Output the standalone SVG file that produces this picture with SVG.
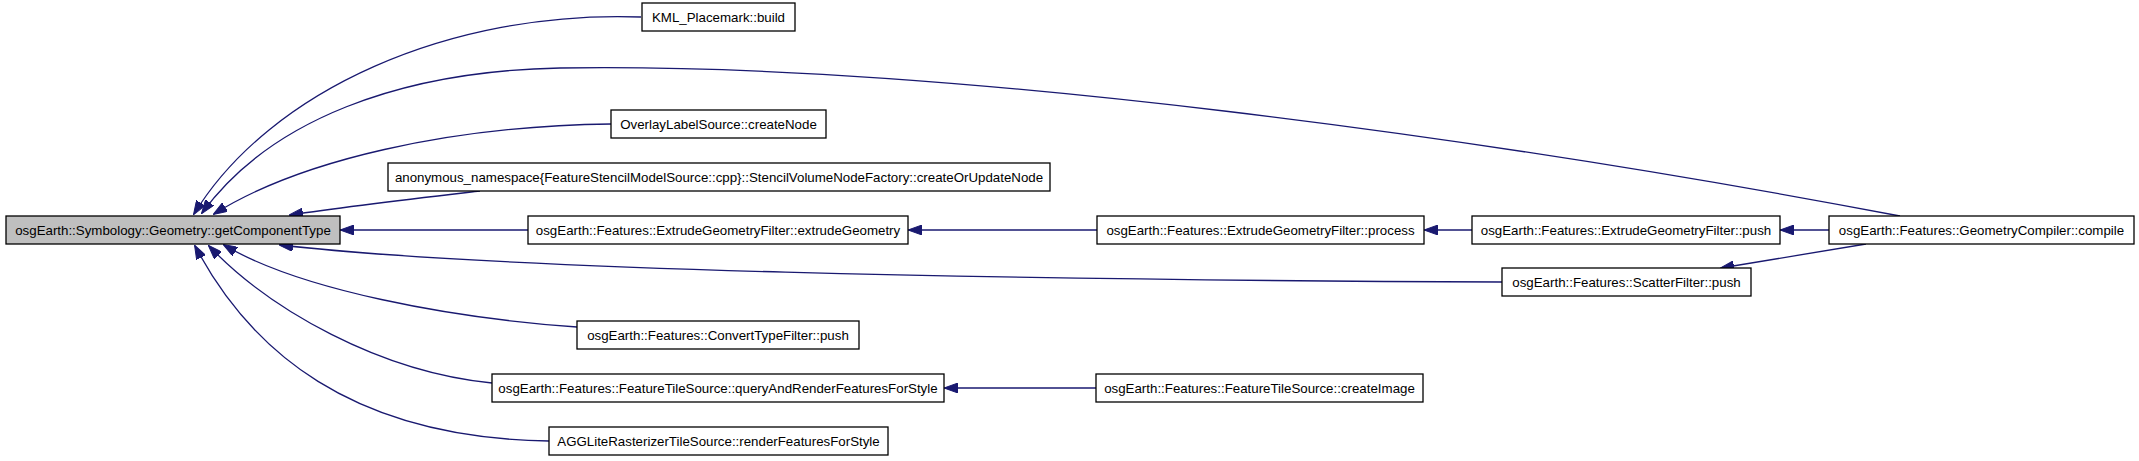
<svg xmlns="http://www.w3.org/2000/svg" width="2139" height="461" viewBox="0 0 2139 461">
<style>
.n rect{fill:#ffffff;stroke:#000000;stroke-width:1.3}
.n.main rect{fill:#bfbfbf}
.n text{font-family:"Liberation Sans",Arial,Helvetica,sans-serif;font-size:13.3px;fill:#000000;text-anchor:middle}
.e path{fill:none;stroke:#191970;stroke-width:1.3;marker-end:url(#arr)}
</style>
<defs>
<marker id="arr" markerWidth="14" markerHeight="10" refX="13" refY="5" orient="auto" markerUnits="userSpaceOnUse">
<path d="M0,0 L14,5 L0,10 z" fill="#191970" stroke="#191970" stroke-width="1"/>
</marker>
</defs>
<rect width="2139" height="461" fill="#ffffff"/>
<g id="edges" class="e">
<path d="M641,17 C 450,10 270,90 194,214"/>
<path d="M1900,216 C 1500,140 950,62 560,68 C 400,71 270,120 202,213"/>
<path d="M611,124 C 450,126 300,160 214,214"/>
<path d="M480,191 C 420,198 350,206 290,215"/>
<path d="M528,230 L341,230"/>
<path d="M1502,282 C 1000,280 500,270 280,245"/>
<path d="M577,327 C 450,318 300,290 224,245"/>
<path d="M492,383 C 380,372 270,310 209,246"/>
<path d="M549,441 C 350,438 250,350 195,246"/>
<path d="M1097,230 L909,230"/>
<path d="M1096,388 L945,388"/>
<path d="M1472,230 L1425,230"/>
<path d="M1829,230 L1781,230"/>
<path d="M1866,244 L1721,268"/>
</g>
<g id="n_main" class="n main"><rect x="6" y="216" width="334" height="28"/><text x="173" y="234.5">osgEarth::Symbology::Geometry::getComponentType</text></g>
<g id="n_kml" class="n"><rect x="642" y="3" width="153" height="28"/><text x="718.5" y="21.5">KML_Placemark::build</text></g>
<g id="n_overlay" class="n"><rect x="611" y="110" width="215" height="28"/><text x="718.5" y="128.5">OverlayLabelSource::createNode</text></g>
<g id="n_anon" class="n"><rect x="388" y="163" width="662" height="28"/><text x="719" y="181.5">anonymous_namespace{FeatureStencilModelSource::cpp}::StencilVolumeNodeFactory::createOrUpdateNode</text></g>
<g id="n_extrude" class="n"><rect x="528" y="216" width="380" height="28"/><text x="718" y="234.5">osgEarth::Features::ExtrudeGeometryFilter::extrudeGeometry</text></g>
<g id="n_convert" class="n"><rect x="577" y="321" width="282" height="28"/><text x="718" y="339.5">osgEarth::Features::ConvertTypeFilter::push</text></g>
<g id="n_query" class="n"><rect x="492" y="374" width="452" height="28"/><text x="718" y="392.5">osgEarth::Features::FeatureTileSource::queryAndRenderFeaturesForStyle</text></g>
<g id="n_agg" class="n"><rect x="549" y="427" width="339" height="28"/><text x="718.5" y="445.5">AGGLiteRasterizerTileSource::renderFeaturesForStyle</text></g>
<g id="n_process" class="n"><rect x="1097" y="216" width="327" height="28"/><text x="1260.5" y="234.5">osgEarth::Features::ExtrudeGeometryFilter::process</text></g>
<g id="n_createimage" class="n"><rect x="1096" y="374" width="327" height="28"/><text x="1259.5" y="392.5">osgEarth::Features::FeatureTileSource::createImage</text></g>
<g id="n_egfpush" class="n"><rect x="1472" y="216" width="308" height="28"/><text x="1626" y="234.5">osgEarth::Features::ExtrudeGeometryFilter::push</text></g>
<g id="n_scatter" class="n"><rect x="1502" y="268" width="249" height="28"/><text x="1626.5" y="286.5">osgEarth::Features::ScatterFilter::push</text></g>
<g id="n_compile" class="n"><rect x="1829" y="216" width="305" height="28"/><text x="1981.5" y="234.5">osgEarth::Features::GeometryCompiler::compile</text></g>
</svg>
